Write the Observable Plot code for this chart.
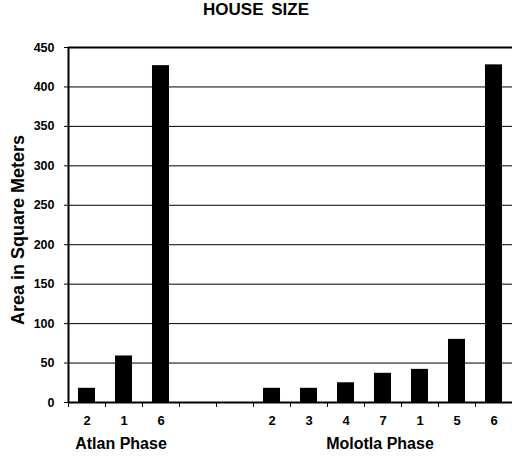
<!DOCTYPE html>
<html><head><meta charset="utf-8">
<script src="https://cdn.jsdelivr.net/npm/d3@7"></script>
<script src="https://cdn.jsdelivr.net/npm/@observablehq/plot@0.6"></script>
<style>
body{margin:0;background:#fff;}
#title{width:512px;height:30px;line-height:30px;text-align:center;font:bold 17px "Liberation Sans",Arial,sans-serif;color:#000;word-spacing:3px;}
#chart svg{font-family:"Liberation Sans",Arial,sans-serif;color:#000;}
</style>
</head><body>
<div id="title"></div>
<div id="chart"></div>
<script>
const title = "HOUSE SIZE";
const yLabel = "Area in Square Meters";
const atlanHouses = ["2", "1", "6"];
const atlanArea = [18, 59, 427];
const molotlaHouses = ["2", "3", "4", "7", "1", "5", "6"];
const molotlaArea = [18, 18, 25, 37, 42, 80, 428];
const gapSlots = 2;
const yTicks = [0, 50, 100, 150, 200, 250, 300, 350, 400, 450];
const phaseNames = ["Atlan Phase", "Molotla Phase"];

document.getElementById("title").textContent = title;

const molotlaStart = atlanHouses.length + gapSlots;
const nSlots = molotlaStart + molotlaHouses.length;
const rows = [];
atlanHouses.forEach((h, i) => rows.push({slot: i, house: h, area: atlanArea[i]}));
molotlaHouses.forEach((h, i) => rows.push({slot: molotlaStart + i, house: h, area: molotlaArea[i]}));
const phases = [
  {name: phaseNames[0], slot: atlanHouses.length / 2},
  {name: phaseNames[1], slot: molotlaStart + molotlaHouses.length / 2}
];
const yMax = yTicks[yTicks.length - 1];

const chart = Plot.plot({
  width: 512,
  height: 427,
  marginTop: 17,
  marginBottom: 55,
  marginLeft: 68,
  marginRight: 0,
  x: {domain: [0, nSlots], axis: null},
  y: {domain: [0, yMax], axis: null},
  marks: [
    Plot.ruleY(yTicks.slice(1, -1), {stroke: "#000", strokeWidth: 1}),
    Plot.ruleY([yMax], {stroke: "#000", strokeWidth: 2}),
    Plot.rectY(rows, {x1: d => d.slot + 0.27, x2: d => d.slot + 0.73, y: "area", fill: "#000"}),
    Plot.ruleY([0], {stroke: "#000", strokeWidth: 2}),
    Plot.ruleX([0], {stroke: "#000", strokeWidth: 2}),
    Plot.axisY({ticks: yTicks, tickSize: 4, tickPadding: 10, tickFormat: d => String(d), fontSize: 12.5, fontWeight: "bold", label: null, stroke: "#000"}),
    Plot.axisX({ticks: d3.range(nSlots + 1), tickSize: 5, tickFormat: () => "", label: null, stroke: "#000"}),
    Plot.text(rows, {x: d => d.slot + 0.5, text: "house", frameAnchor: "bottom", dy: 22, fontSize: 13, fontWeight: "bold", fill: "#000"}),
    Plot.text(phases, {x: "slot", text: "name", frameAnchor: "bottom", dy: 46, dx: -3, fontSize: 16, fontWeight: "bold", fill: "#000"}),
    Plot.text([yLabel], {frameAnchor: "left", textAnchor: "middle", rotate: -90, dx: -50, dy: 5, fontSize: 18, fontWeight: "bold", fill: "#000"})
  ]
});
document.getElementById("chart").appendChild(chart);
</script>
</body></html>
